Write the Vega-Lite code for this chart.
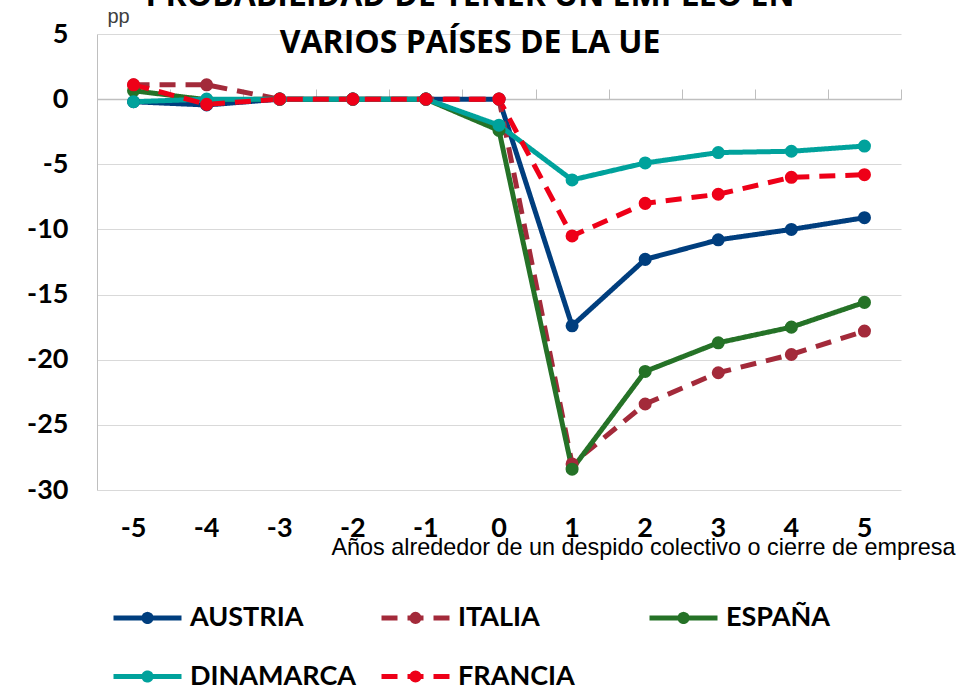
{
  "$schema": "https://vega.github.io/schema/vega-lite/v6.json",
  "width": 804,
  "height": 456,
  "autosize": {"type": "none"},
  "padding": {"left": 97, "top": 34, "right": 75, "bottom": 198},
  "background": "white",
  "title": {
    "text": ["PROBABILIDAD DE TENER UN EMPLEO EN", "VARIOS PAÍSES DE LA UE"],
    "font": "Open Sans",
    "fontSize": 32,
    "fontWeight": "bold",
    "color": "black",
    "anchor": "middle",
    "dx": -29,
    "dy": 54,
    "offset": 0,
    "lineHeight": 47
  },
  "data": {
    "values": [
      {"year": -5, "country": "AUSTRIA", "value": -0.2},
      {"year": -4, "country": "AUSTRIA", "value": -0.45},
      {"year": -3, "country": "AUSTRIA", "value": 0},
      {"year": -2, "country": "AUSTRIA", "value": 0},
      {"year": -1, "country": "AUSTRIA", "value": 0},
      {"year": 0, "country": "AUSTRIA", "value": 0},
      {"year": 1, "country": "AUSTRIA", "value": -17.4},
      {"year": 2, "country": "AUSTRIA", "value": -12.3},
      {"year": 3, "country": "AUSTRIA", "value": -10.8},
      {"year": 4, "country": "AUSTRIA", "value": -10.0},
      {"year": 5, "country": "AUSTRIA", "value": -9.1},
      {"year": -5, "country": "ITALIA", "value": 1.1},
      {"year": -4, "country": "ITALIA", "value": 1.1},
      {"year": -3, "country": "ITALIA", "value": 0},
      {"year": -2, "country": "ITALIA", "value": 0},
      {"year": -1, "country": "ITALIA", "value": 0},
      {"year": 0, "country": "ITALIA", "value": 0},
      {"year": 1, "country": "ITALIA", "value": -28.0},
      {"year": 2, "country": "ITALIA", "value": -23.4},
      {"year": 3, "country": "ITALIA", "value": -21.0},
      {"year": 4, "country": "ITALIA", "value": -19.6},
      {"year": 5, "country": "ITALIA", "value": -17.8},
      {"year": -5, "country": "ESPAÑA", "value": 0.65},
      {"year": -4, "country": "ESPAÑA", "value": -0.05},
      {"year": -3, "country": "ESPAÑA", "value": 0},
      {"year": -2, "country": "ESPAÑA", "value": 0},
      {"year": -1, "country": "ESPAÑA", "value": 0},
      {"year": 0, "country": "ESPAÑA", "value": -2.4},
      {"year": 1, "country": "ESPAÑA", "value": -28.4},
      {"year": 2, "country": "ESPAÑA", "value": -20.9},
      {"year": 3, "country": "ESPAÑA", "value": -18.7},
      {"year": 4, "country": "ESPAÑA", "value": -17.5},
      {"year": 5, "country": "ESPAÑA", "value": -15.6},
      {"year": -5, "country": "DINAMARCA", "value": -0.2},
      {"year": -4, "country": "DINAMARCA", "value": 0},
      {"year": -3, "country": "DINAMARCA", "value": 0},
      {"year": -2, "country": "DINAMARCA", "value": 0},
      {"year": -1, "country": "DINAMARCA", "value": 0},
      {"year": 0, "country": "DINAMARCA", "value": -2.0},
      {"year": 1, "country": "DINAMARCA", "value": -6.2},
      {"year": 2, "country": "DINAMARCA", "value": -4.9},
      {"year": 3, "country": "DINAMARCA", "value": -4.1},
      {"year": 4, "country": "DINAMARCA", "value": -4.0},
      {"year": 5, "country": "DINAMARCA", "value": -3.6},
      {"year": -5, "country": "FRANCIA", "value": 1.1},
      {"year": -4, "country": "FRANCIA", "value": -0.4},
      {"year": -3, "country": "FRANCIA", "value": 0},
      {"year": -2, "country": "FRANCIA", "value": 0},
      {"year": -1, "country": "FRANCIA", "value": 0},
      {"year": 0, "country": "FRANCIA", "value": 0},
      {"year": 1, "country": "FRANCIA", "value": -10.5},
      {"year": 2, "country": "FRANCIA", "value": -8.0},
      {"year": 3, "country": "FRANCIA", "value": -7.3},
      {"year": 4, "country": "FRANCIA", "value": -6.0},
      {"year": 5, "country": "FRANCIA", "value": -5.8}
    ]
  },
  "layer": [
    {
      "mark": {"type": "point", "opacity": 0},
      "encoding": {
        "x": {
          "field": "year", "type": "ordinal",
          "scale": {"type": "band", "paddingInner": 0, "paddingOuter": 0},
          "axis": {
            "orient": "top", "offset": -65, "labels": false, "title": null,
            "domain": true, "domainColor": "#bfbfbf", "domainWidth": 1.5,
            "ticks": true, "tickBand": "extent", "tickSize": 10, "tickColor": "#bfbfbf", "tickWidth": 1,
            "grid": false
          }
        },
        "y": {
          "field": "value", "type": "quantitative",
          "scale": {"domain": [-30, 5], "nice": false, "zero": false},
          "axis": {
            "values": [-30, -25, -20, -15, -10, -5, 0, 5],
            "labelExpr": "replace(datum.label, '−', '-')",
            "domainColor": "#bfbfbf", "ticks": false,
            "gridColor": "#d9d9d9", "gridWidth": 1,
            "labelFont": "Lato", "labelFontSize": 27, "labelFontWeight": "bold", "labelColor": "black", "labelPadding": 29,
            "title": "pp", "titleAngle": 0, "titleX": 10, "titleY": -12, "titleAlign": "left", "titleBaseline": "alphabetic",
            "titleFont": "Liberation Sans", "titleFontSize": 20, "titleFontWeight": "normal", "titleColor": "#404040"
          }
        }
      }
    },
    {
      "mark": {"type": "line", "strokeWidth": 5, "point": {"filled": true, "size": 170}},
      "encoding": {
        "x": {
          "field": "year", "type": "ordinal",
          "scale": {"type": "band", "paddingInner": 0, "paddingOuter": 0},
          "axis": {
            "orient": "bottom", "domain": false, "ticks": false, "grid": false, "labelAngle": 0,
            "labelFont": "Lato", "labelFontSize": 27, "labelFontWeight": "bold", "labelColor": "black", "labelPadding": 25,
            "title": "Años alrededor de un despido colectivo o cierre de empresa",
            "titleFont": "Liberation Sans", "titleFontSize": 23.4, "titleFontWeight": "normal", "titleColor": "black",
            "titleX": 858, "titleY": 64, "titleAlign": "right", "titleBaseline": "alphabetic"
          }
        },
        "y": {
          "field": "value", "type": "quantitative",
          "scale": {"domain": [-30, 5], "nice": false, "zero": false},
          "axis": {
            "values": [-30, -25, -20, -15, -10, -5, 0, 5],
            "labelExpr": "replace(datum.label, '−', '-')",
            "domainColor": "#bfbfbf", "ticks": false,
            "gridColor": "#d9d9d9", "gridWidth": 1,
            "labelFont": "Lato", "labelFontSize": 27, "labelFontWeight": "bold", "labelColor": "black", "labelPadding": 29,
            "title": "pp", "titleAngle": 0, "titleX": 10, "titleY": -12, "titleAlign": "left", "titleBaseline": "alphabetic",
            "titleFont": "Liberation Sans", "titleFontSize": 20, "titleFontWeight": "normal", "titleColor": "#404040"
          }
        },
        "color": {
          "field": "country", "type": "nominal",
          "scale": {
            "domain": ["AUSTRIA", "ITALIA", "ESPAÑA", "DINAMARCA", "FRANCIA"],
            "range": ["#003E7E", "#A32A3A", "#257227", "#00A29C", "#EE0018"]
          },
          "legend": {
            "title": null, "orient": "none", "legendX": 14, "legendY": 547,
            "direction": "horizontal", "columns": 3, "gridAlign": "all", "columnPadding": 14, "rowPadding": 8,
            "symbolType": "M-1,0L0,0M1,0L0,0M-0.106,0A0.106,0.106,0,0,1,0.106,0M0.106,0A0.106,0.106,0,0,1,-0.106,0",
            "symbolSize": 4624, "symbolStrokeWidth": 5,
            "labelFont": "Lato", "labelFontSize": 27, "labelFontWeight": "bold", "labelColor": "black",
            "labelOffset": 6, "labelLimit": 400, "padding": 0
          }
        },
        "strokeDash": {
          "field": "country", "type": "nominal",
          "scale": {
            "domain": ["AUSTRIA", "ITALIA", "ESPAÑA", "DINAMARCA", "FRANCIA"],
            "range": [[1, 0], [16, 10], [1, 0], [1, 0], [16, 10]]
          },
          "legend": {
            "title": null, "orient": "none", "legendX": 14, "legendY": 547,
            "direction": "horizontal", "columns": 3, "gridAlign": "all", "columnPadding": 14, "rowPadding": 8,
            "symbolType": "M-1,0L0,0M1,0L0,0M-0.106,0A0.106,0.106,0,0,1,0.106,0M0.106,0A0.106,0.106,0,0,1,-0.106,0",
            "symbolSize": 4624, "symbolStrokeWidth": 5,
            "labelFont": "Lato", "labelFontSize": 27, "labelFontWeight": "bold", "labelColor": "black",
            "labelOffset": 6, "labelLimit": 400, "padding": 0
          }
        }
      }
    }
  ],
  "resolve": {"axis": {"x": "independent"}},
  "config": {"view": {"stroke": null}, "legend": {"rowPadding": 8}}
}
